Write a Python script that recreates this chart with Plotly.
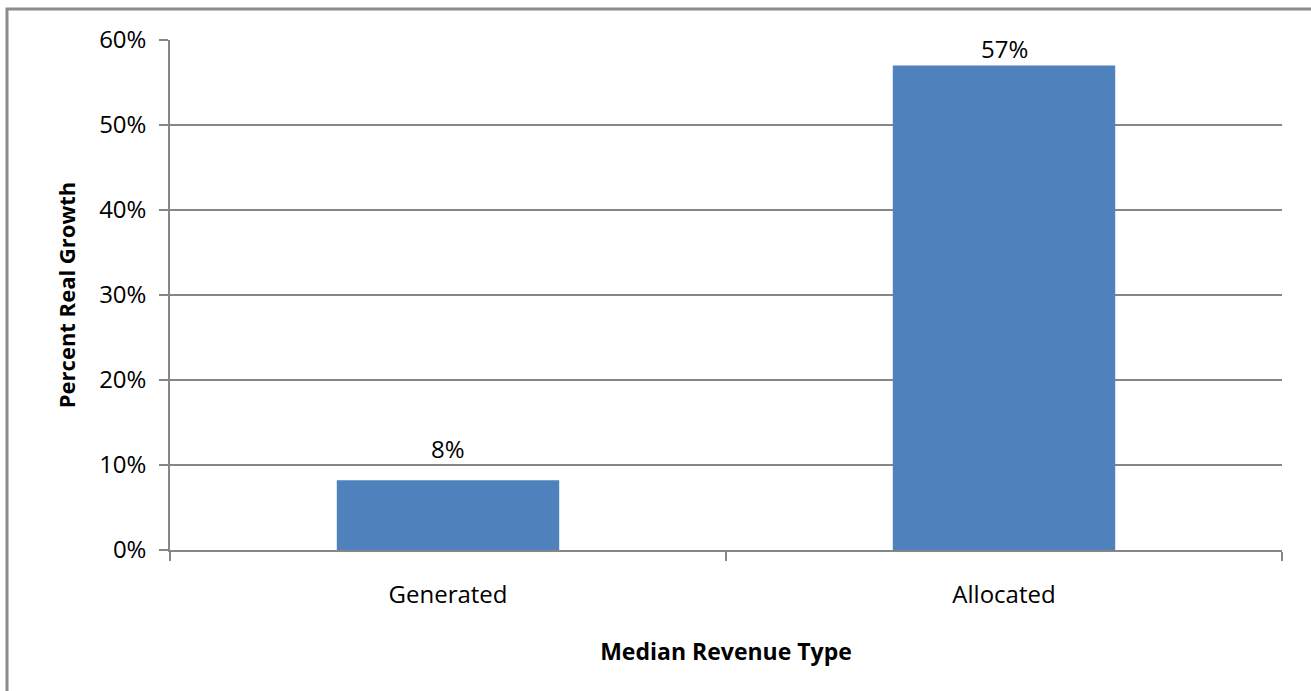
import plotly.graph_objects as go

categories = ["Generated", "Allocated"]
growth_pct = [8.2, 57.0]
y_ticks = [0, 10, 20, 30, 40, 50, 60]
label_lift = [18, 4]  # px between bar top and its value label

bar_color = "#4f81bd"
grid_color = "#868686"
font_family = "'Open Sans', sans-serif"

fig = go.Figure(
    go.Bar(
        x=categories,
        y=growth_pct,
        marker=dict(color=bar_color, line=dict(width=0)),
        hoverinfo="x+y",
    )
)

# value labels above the bars
for cat, val, lift in zip(categories, growth_pct, label_lift):
    fig.add_annotation(
        x=cat, y=val, xref="x", yref="y",
        text=f"{val:.0f}%",
        showarrow=False,
        yanchor="bottom",
        yshift=lift - 5,
        font=dict(family=font_family, size=24, color="#000000"),
    )

fig.update_layout(
    width=1311,
    height=691,
    margin=dict(l=170, r=29, t=40, b=141),
    paper_bgcolor="white",
    plot_bgcolor="white",
    bargap=0.6,
    showlegend=False,
    font=dict(family=font_family, color="#000000"),
    shapes=[
        dict(
            type="rect", xref="paper", yref="paper",
            x0=-163 / 1112, x1=1.2,
            y0=-0.6, y1=(550 - 9) / 510,
            line=dict(color="#8c8c8c", width=3),
            fillcolor="rgba(0,0,0,0)",
            layer="below",
        )
    ],
)

fig.update_yaxes(
    range=[0, 60],
    tickvals=y_ticks,
    ticktext=[f"{v}%" for v in y_ticks],
    tickfont=dict(family=font_family, size=24),
    ticklabelstandoff=8,
    showgrid=True,
    gridcolor=grid_color,
    gridwidth=1.5,
    showline=True,
    linecolor=grid_color,
    linewidth=1.5,
    ticks="outside",
    ticklen=9,
    tickcolor=grid_color,
    tickwidth=1.5,
    zeroline=False,
    title=dict(
        text="<b>Percent Real Growth</b>",
        font=dict(family=font_family, size=22),
        standoff=17,
    ),
)

fig.update_xaxes(
    showline=True,
    linecolor=grid_color,
    linewidth=1.5,
    ticks="outside",
    tickson="boundaries",
    ticklen=9,
    tickcolor=grid_color,
    tickwidth=1.5,
    tickfont=dict(family=font_family, size=24),
    ticklabelstandoff=22,
    title=dict(
        text="<b>Median Revenue Type</b>",
        font=dict(family=font_family, size=23),
        standoff=35,
    ),
)

fig.write_html("out.html")
